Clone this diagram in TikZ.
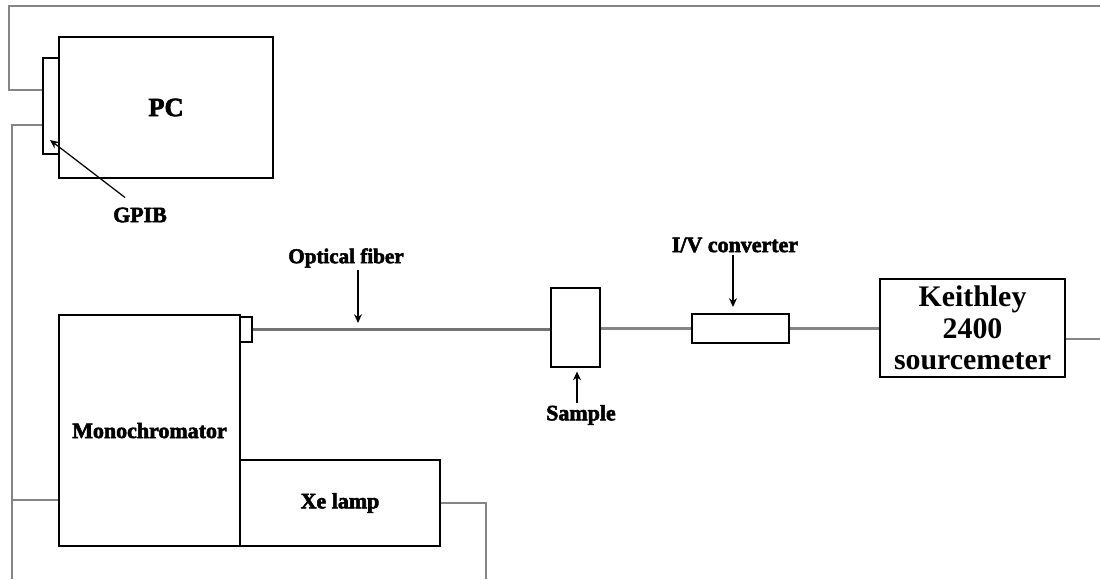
\documentclass[tikz,border=0pt]{standalone}
\usepackage{fontspec}
\setmainfont{Liberation Serif}
\newfontfamily\heavyfont{Liberation Serif Bold}[FakeBold=2.5]
\usetikzlibrary{arrows.meta}

\begin{document}
\begin{tikzpicture}[x=0.02cm, y=-0.02cm, >={Stealth[length=5pt,width=4.5pt]},
    box/.style={draw, line width=1.1pt, inner sep=0pt, fill=white},
    wire/.style={draw=black!48, line width=1.2pt},
    fiber/.style={draw=black!55, line width=2.2pt},
    tag/.style={font=\heavyfont\fontsize{12.5}{15}\selectfont, inner sep=1pt},
    pointer/.style={->, line width=0.7pt}]
    \useasboundingbox (0,0) rectangle (1100,579);

    % Instruments
    \node[box, minimum width=0.32cm, minimum height=1.92cm] (gpib) at (51,106) {};
    \node[box, tag, minimum width=4.28cm, minimum height=2.82cm] (pc) at (166,107.5) {\fontsize{15}{17}\selectfont PC};
    \node[box, tag, minimum width=3.62cm, minimum height=4.62cm] (mono) at (149.5,430.5) {Monochromator};
    \node[box, minimum width=0.24cm, minimum height=0.5cm] (port) at (246,329.5) {};
    \node[box, tag, minimum width=4cm, minimum height=1.72cm] (xe) at (340,503) {Xe lamp};
    \node[box, minimum width=0.98cm, minimum height=1.58cm] (sample) at (575.5,327.5) {};
    \node[box, minimum width=1.94cm, minimum height=0.58cm] (iv) at (740.5,328.5) {};
    \node[box, align=center, font=\bfseries\fontsize{17}{18}\selectfont,
        minimum width=3.7cm, minimum height=1.96cm] (keithley) at (972.5,328)
        {Keithley\\2400\\sourcemeter};

    % Labels
    \node[tag] (gpiblbl) at (140,215) {GPIB};
    \node[tag, font=\heavyfont\fontsize{12}{14}\selectfont] (fiberlbl) at (346,258) {Optical fiber};
    \node[tag] (samplelbl) at (581,415) {Sample};
    \node[tag] (ivlbl) at (735,245) {I/V converter};

    % Pointers to the parts
    \coordinate (gpibtip) at (50,140);
    \coordinate (fibertip) at (358,323);
    \coordinate (ivtip) at (733,307);
    \draw[pointer] (gpiblbl.north west) ++(14,-8) -- (gpibtip);
    \draw[pointer] (fibertip |- fiberlbl.south) -- (fibertip);
    \draw[pointer, shorten >=2pt] (samplelbl.north -| 577,0) -- (sample.south -| 577,0);
    \draw[pointer] (ivtip |- ivlbl.south) -- (ivtip);

    % GPIB bus and power lines
    \coordinate (busend) at (1100,6);
    \coordinate (meterend) at (1100,339);
    \draw[wire] (gpib.west |- 0,90) -| (9,6) -- (busend);
    \draw[wire] (gpib.west |- 0,125) -| (12,579);
    \draw[wire] (mono.west |- 0,500) -- (12,500);
    \draw[wire] (xe.east) -| (486,579);

    % Light path and signal line
    \draw[fiber] (port.east) -- (sample.west |- port.east);
    \draw[wire] (sample.east |- iv.west) -- (iv.west);
    \draw[wire] (iv.east) -- (keithley.west |- iv.east);
    \draw[wire] (keithley.east |- meterend) -- (meterend);

\end{tikzpicture}
\end{document}
